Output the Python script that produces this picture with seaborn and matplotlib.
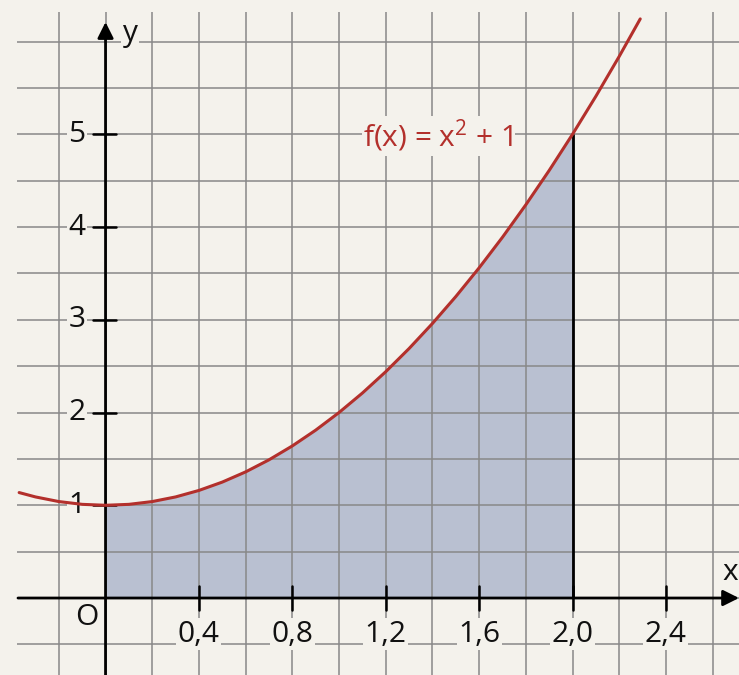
import matplotlib
matplotlib.use("Agg")
import matplotlib.pyplot as plt
import seaborn as sns
import numpy as np
import pandas as pd

# values: f(x) = x^2 + 1
x_vals = [-0.37, -0.3, -0.2, -0.1, 0.0, 0.1, 0.2, 0.3, 0.4, 0.5, 0.6, 0.7, 0.8, 0.9,
          1.0, 1.1, 1.2, 1.3, 1.4, 1.5, 1.6, 1.7, 1.8, 1.9, 2.0, 2.1, 2.2, 2.29]
y_vals = [1.137, 1.09, 1.04, 1.01, 1.0, 1.01, 1.04, 1.09, 1.16, 1.25, 1.36, 1.49, 1.64, 1.81,
          2.0, 2.21, 2.44, 2.69, 2.96, 3.25, 3.56, 3.89, 4.24, 4.61, 5.0, 5.41, 5.84, 6.2441]
x_ticks = [0.4, 0.8, 1.2, 1.6, 2.0, 2.4]
x_tick_labels = ["0,4", "0,8", "1,2", "1,6", "2,0", "2,4"]
y_ticks = [1, 2, 3, 4, 5]
y_tick_labels = ["1", "2", "3", "4", "5"]
func_label = "f(x) = x$^{2}$ + 1"
area_from, area_to = 0.0, 2.0

sns.set_theme(style="white")
plt.rcParams['font.family'] = ['Open Sans', 'DejaVu Sans']
plt.rcParams['mathtext.fontset'] = 'custom'
plt.rcParams['mathtext.rm'] = 'Open Sans'
plt.rcParams['mathtext.it'] = 'Open Sans'

paper = "#f4f2ec"
grid_c = "#888888"
red = "#b3302c"
fs = 21.5

fig = plt.figure(figsize=(7.39, 6.75), dpi=100, facecolor=paper)
ax = fig.add_axes([0, 0, 1, 1], facecolor=paper)
xmin, xmax = -0.452, 2.713
ymin, ymax = -0.830, 6.448
ax.set_xlim(xmin, xmax)
ax.set_ylim(ymin, ymax)
for s in ax.spines.values():
    s.set_visible(False)
ax.set_xticks([])
ax.set_yticks([])

# grid paper
gx = np.arange(-0.2, 2.75, 0.2)
gy = np.arange(-0.5, 6.1, 0.5)
ax.vlines(gx, ymin, 6.32, color=grid_c, lw=1.1, zorder=1)
ax.hlines(gy, -0.379, xmax, color=grid_c, lw=1.1, zorder=1)

df = pd.DataFrame({"x": x_vals, "y": y_vals})
sub = df[(df.x >= area_from) & (df.x <= area_to)]
ax.fill_between(sub.x, 0, sub.y, color="#b9c0d1", lw=0, zorder=0.5)
ax.vlines([area_to], 0, sub.y.iloc[-1], color="black", lw=2.0, zorder=4)

# axes with arrows
ax.annotate("", xy=(xmax, 0), xytext=(-0.375, 0),
            arrowprops=dict(arrowstyle="-|>", lw=2.0, color="black", mutation_scale=24, shrinkA=0, shrinkB=0), zorder=5)
ax.annotate("", xy=(0, 6.21), xytext=(0, ymin),
            arrowprops=dict(arrowstyle="-|>", lw=2.0, color="black", mutation_scale=24, shrinkA=0, shrinkB=0), zorder=5)

sns.lineplot(data=df, x="x", y="y", color=red, lw=2.2, ax=ax, zorder=6, sort=False)
ax.set_xlabel("")
ax.set_ylabel("")

bbox = dict(facecolor=paper, edgecolor="none", pad=1.0)
for t, lab in zip(x_ticks, x_tick_labels):
    ax.plot([t, t], [-0.13, 0.13], color="black", lw=1.8, zorder=5)
    ax.text(t, -0.39, lab, ha="center", va="center", fontsize=fs, color="#111111", bbox=bbox, zorder=3)
for t, lab in zip(y_ticks, y_tick_labels):
    ax.plot([-0.055, 0.045], [t, t], color="black", lw=1.8, zorder=5)
    ax.text(-0.122, t, lab, ha="center", va="center", fontsize=fs, color="#111111", bbox=bbox, zorder=3)
ax.text(-0.079, -0.205, "O", ha="center", va="center", fontsize=fs, color="#111111", bbox=bbox, zorder=3)
ax.text(0.105, 6.09, "y", ha="center", va="center", fontsize=fs, color="#111111", bbox=bbox, zorder=3)
ax.text(2.675, 0.28, "x", ha="center", va="center", fontsize=fs, color="#111111", bbox=bbox, zorder=3)
ax.text(1.425, 4.98, func_label, ha="center", va="center", fontsize=fs, color=red, bbox=bbox, zorder=3)

fig.savefig("out.png", dpi=100, facecolor=paper)
